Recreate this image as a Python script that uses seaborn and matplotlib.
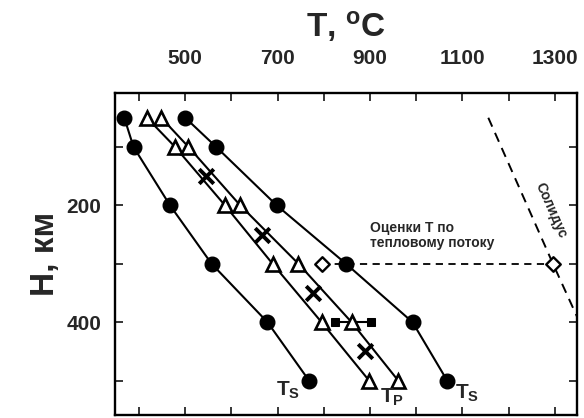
import matplotlib
matplotlib.use("Agg")
import matplotlib.pyplot as plt
import seaborn as sns
import pandas as pd
from matplotlib.ticker import FixedLocator

# ---------------- data ----------------
depth = [50, 100, 200, 300, 400, 500]
ts_cold = [368, 388, 467, 557, 678, 768]
tp_left = [417, 478, 586, 689, 795, 898]
tp_right = [448, 507, 619, 745, 860, 961]
ts_hot = [500, 567, 698, 848, 992, 1067]

cross_depth = [150, 250, 350, 450]
cross_T = [545, 667, 777, 889]

heat_depth = [300, 300]
heat_T = [797, 1296]

square_depth = [400, 400]
square_T = [824, 901]

solidus_depth = [50, 300, 420]
solidus_T = [1156, 1296, 1365]

x_major = [500, 700, 900, 1100, 1300]
x_minor = [400, 600, 800, 1000, 1200]
y_major = [200, 400]
y_minor = [100, 300, 500]

# ---------------- style ----------------
sns.set_style("white")
plt.rcParams["font.family"] = ["Liberation Sans", "DejaVu Sans"]
plt.rcParams["font.weight"] = "bold"
plt.rcParams["mathtext.fontset"] = "custom"
plt.rcParams["mathtext.rm"] = "Liberation Sans:bold"
plt.rcParams["mathtext.bf"] = "Liberation Sans:bold"
plt.rcParams["mathtext.it"] = "Liberation Sans:bold"

fig = plt.figure(figsize=(5.84, 4.18), dpi=100)
ax = fig.add_axes([0.197, 0.007, 0.791, 0.770])

lw = 1.5
# solid curves
for T, mk, fc in [(ts_cold, "o", "black"), (tp_left, "^", "white"),
                  (tp_right, "^", "white"), (ts_hot, "o", "black")]:
    df = pd.DataFrame({"T": T, "H": depth})
    sns.lineplot(data=df, x="T", y="H", sort=False, estimator=None, ax=ax,
                 color="black", lw=lw, marker=mk, markersize=10.5 if mk == "o" else 10.5,
                 markerfacecolor=fc, markeredgecolor="black",
                 markeredgewidth=1.0 if mk == "o" else 1.9, zorder=3)

# heat flow estimate dashed line with diamonds
sns.lineplot(x=heat_T, y=heat_depth, sort=False, estimator=None, ax=ax,
             color="black", lw=1.3, linestyle=(0, (4, 3)), zorder=2)
sns.scatterplot(x=heat_T, y=heat_depth, ax=ax, marker="D", s=55,
                facecolor="white", edgecolor="black", linewidth=1.7, zorder=4)

# squares
sns.lineplot(x=square_T, y=square_depth, sort=False, estimator=None, ax=ax,
             color="black", lw=lw, marker="s", markersize=6,
             markerfacecolor="black", markeredgecolor="black", zorder=2)

# crosses
sns.scatterplot(x=cross_T, y=cross_depth, ax=ax, marker="x", s=110,
                color="black", linewidth=2.8, zorder=4)

# solidus
sns.lineplot(x=solidus_T, y=solidus_depth, sort=False, estimator=None, ax=ax,
             color="black", lw=1.4, linestyle=(0, (5, 3.5)), zorder=2)

# ---------------- axes ----------------
ax.set_xlim(348, 1348)
ax.set_ylim(559, 8)
ax.xaxis.set_ticks_position("both")
ax.yaxis.set_ticks_position("both")
ax.xaxis.set_label_position("top")
ax.set_xticks(x_major)
ax.set_xticklabels([str(v) for v in x_major])
ax.xaxis.set_minor_locator(FixedLocator(x_minor))
ax.set_yticks(y_major)
ax.set_yticklabels([str(v) for v in y_major])
ax.yaxis.set_minor_locator(FixedLocator(y_minor))
ax.tick_params(axis="x", which="both", direction="in", length=6, width=1.3,
               top=True, bottom=True, labeltop=True, labelbottom=False,
               pad=18, labelsize=15)
ax.tick_params(axis="y", which="both", direction="in", length=6, width=1.3,
               left=True, right=True, labelleft=True, labelright=False,
               pad=10, labelsize=15)
for lab in ax.get_xticklabels() + ax.get_yticklabels():
    lab.set_fontweight("bold")
for s in ax.spines.values():
    s.set_linewidth(1.7)
    s.set_color("black")

ax.set_xlabel(r"T, $\mathregular{^o}$C", fontsize=24, fontweight="bold", labelpad=9)
ax.set_ylabel("H, км", fontsize=24, fontweight="bold", labelpad=4)

# ---------------- annotations ----------------
ax.text(696, 517, r"$\mathregular{T_S}$", fontsize=15, ha="left", va="center")
ax.text(922, 529, r"$\mathregular{T_P}$", fontsize=15, ha="left", va="center")
ax.text(1083, 522, r"$\mathregular{T_S}$", fontsize=15, ha="left", va="center")
ax.text(900, 251, "Оценки Т по\nтепловому потоку", fontsize=10,
        fontweight="bold", ha="left", va="center", linespacing=1.1)
ax.text(1292, 208, "Солидус", fontsize=10, fontweight="bold",
        rotation=-66, ha="center", va="center")

fig.savefig("out.png", dpi=100)
